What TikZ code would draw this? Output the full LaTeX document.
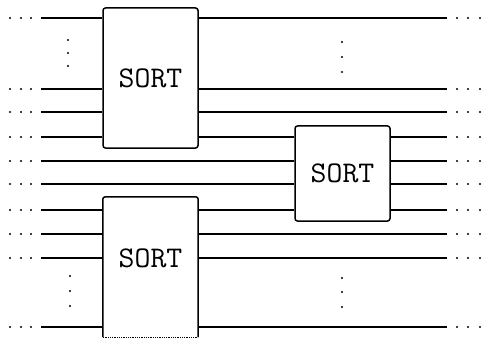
\documentclass[tikz,border=0pt]{standalone}
\usepackage{tikz}
\usetikzlibrary{positioning}
\tikzset{sortbox/.style = {draw, line width=1.5pt, rounded corners=2.5pt,
                          minimum width=95pt, inner sep=0pt,
                          font=\fontsize{30}{30}\selectfont\ttfamily},
         wire/.style = {line width=1.5pt},
         pt/.style = {fill, circle, inner sep=0pt, minimum size=2.4pt}}
\newcommand{\sortword}{\scalebox{1.03}[1]{SORT}}

\begin{document}
\begin{tikzpicture}[x=1pt, y=-1pt]
      \useasboundingbox (0,0) rectangle (486,339);

      % the three sorters
      \node [sortbox, minimum height=140pt] (sortA) at (150.5, 78) {\sortword};
      \node [sortbox, minimum height=95pt] (sortB) at (342.5, 173.5) {\sortword};
      \node [minimum width=95pt, minimum height=140pt, inner sep=0pt] (sortC) at (150.5, 267) {};
      \draw [line width=1.5pt, rounded corners=2.5pt]
            (sortC.south west) -- (sortC.north west) -- (sortC.north east) -- (sortC.south east);
      \draw [densely dotted, line width=0.8pt] (sortC.south west) -- (sortC.south east);

      % wire ends
      \foreach \i/\y in {1/18, 2/89, 3/112, 4/137, 5/161, 6/184, 7/210, 8/234, 9/258, 10/327} {
        \coordinate (l\i) at (41, \y);
        \coordinate (r\i) at (447, \y);
        \node [pt] at (10, \y) {};
        \node [pt] at (21, \y) {};
        \node [pt] at (31, \y) {};
        \node [pt] at (457, \y) {};
        \node [pt] at (468, \y) {};
        \node [pt] at (480, \y) {};
      }
      \node [font=\fontsize{30}{30}\selectfont\ttfamily] (sortCtext) at (sortC |- l9) {\sortword};

      % into and out of the top sorter
      \foreach \i in {1, 2, 3, 4}
        \draw [wire] (l\i) -- (sortA.west |- l\i);
      \foreach \i in {1, 2, 3}
        \draw [wire] (sortA.east |- r\i) -- (r\i);
      \draw [wire] (sortA.east |- l4) -- (sortB.west |- l4);

      % straight through to the middle sorter
      \draw [wire] (l5) -- (sortB.west |- l5);
      \draw [wire] (l6) -- (sortB.west |- l6);
      \foreach \i in {4, 5, 6, 7}
        \draw [wire] (sortB.east |- r\i) -- (r\i);

      % into and out of the bottom sorter
      \foreach \i in {7, 8, 9, 10}
        \draw [wire] (l\i) -- (sortC.west |- l\i);
      \draw [wire] (sortC.east |- l7) -- (sortB.west |- l7);
      \foreach \i in {8, 9, 10}
        \draw [wire] (sortC.east |- r\i) -- (r\i);

      % vertical dots
      \foreach \y in {40, 53, 66} \node [pt] at (68, \y) {};
      \foreach \y in {42, 57, 72} \node [pt] at (342, \y) {};
      \foreach \y in {276, 291, 306} \node [pt] at (70, \y) {};
      \foreach \y in {278, 292, 307} \node [pt] at (342, \y) {};
\end{tikzpicture}
\end{document}
